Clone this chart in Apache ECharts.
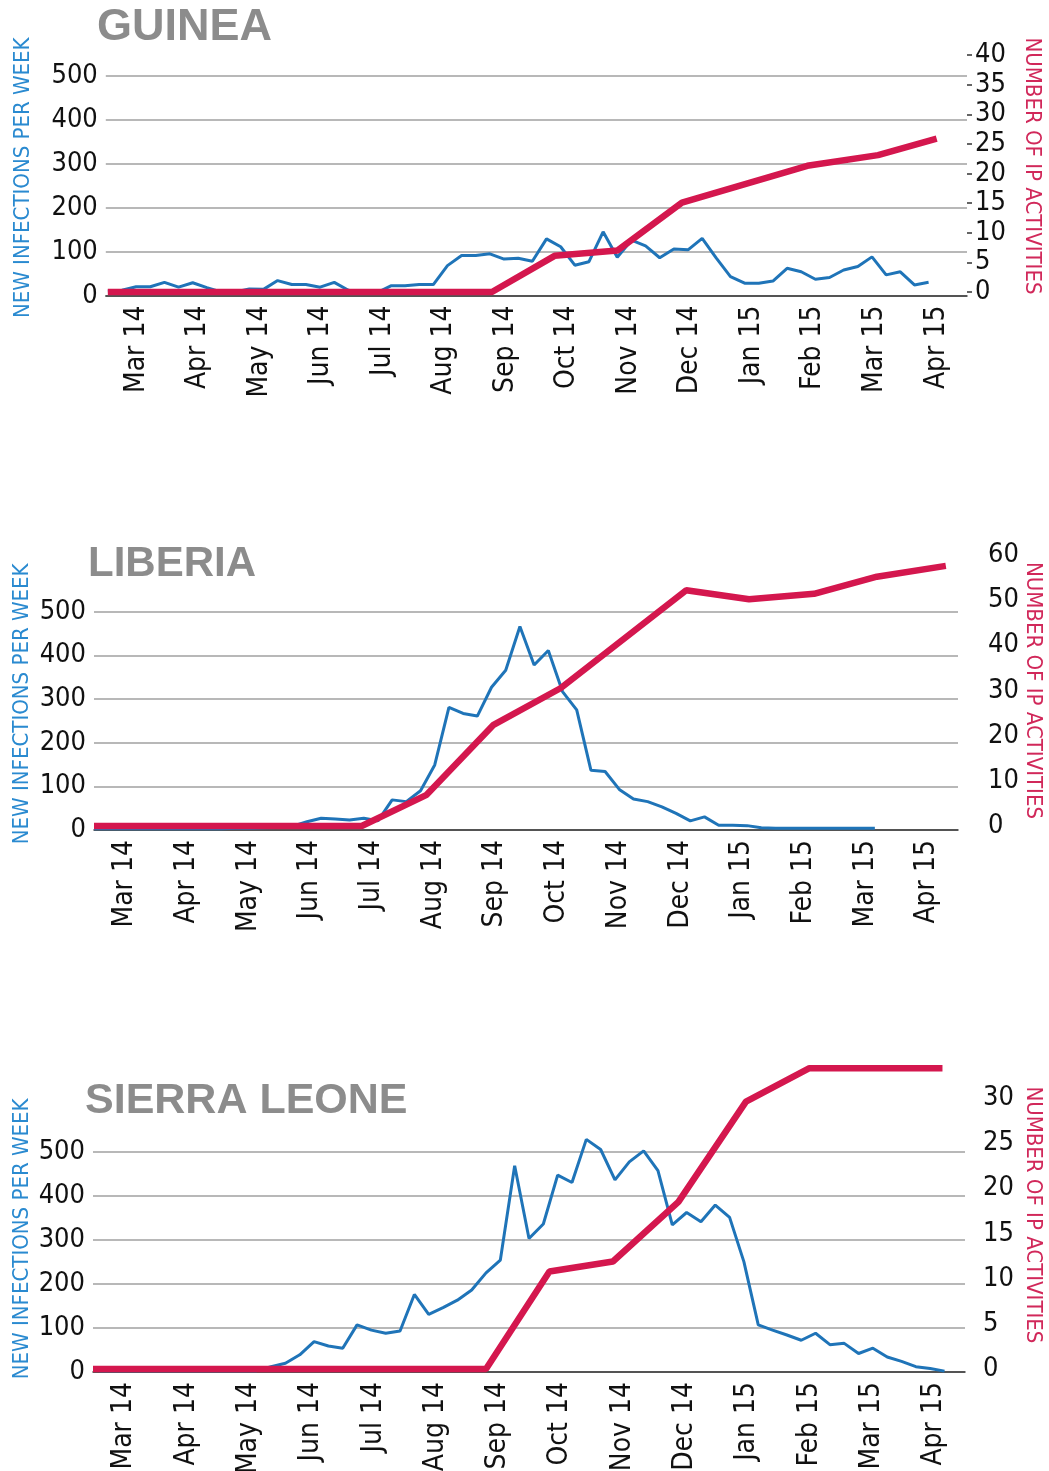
<!DOCTYPE html>
<html>
<head>
<meta charset="utf-8">
<title>New infections per week and IP activities</title>
<script src="https://cdn.jsdelivr.net/npm/echarts@6/dist/echarts.min.js"></script>
<style>
  html, body { margin: 0; background: #fff; overflow: hidden; }
  #chart { width: 1049px; height: 1471px; }
</style>
</head>
<body>
<div id="chart"></div>
<script>
// month bands along the bottom of every panel
const months = ['Mar 14', 'Apr 14', 'May 14', 'Jun 14', 'Jul 14', 'Aug 14', 'Sep 14',
  'Oct 14', 'Nov 14', 'Dec 14', 'Jan 15', 'Feb 15', 'Mar 15', 'Apr 15']

// Guinea - weekly new infections (first week below), IP activities (cumulative)
const guineaFirstWeek = '2014-03-02'
const guineaCases = [10, 12, 20, 20, 30, 19, 29, 18, 8, 8, 15, 14, 34, 25, 25, 19, 30, 12, 5, 6,
  22, 22, 25, 25, 68, 91, 91, 95, 83, 85, 78, 129, 111, 69, 77, 145, 87, 126, 113, 86,
  106, 104, 130, 85, 43, 28, 28, 33, 62, 54, 37, 41, 58, 66, 88, 47, 54, 24, 30]
const guineaIpDates = ['2014-03-02', '2014-09-08', '2014-10-09', '2014-11-09', '2014-12-11',
  '2015-02-11', '2015-03-18', '2015-04-16']
const guineaIp = [0, 0, 6.1, 7.0, 15.1, 21.3, 23.1, 25.9]

// Liberia
const liberiaFirstWeek = '2014-03-01'
const liberiaCases = [3, 3, 3, 3, 3, 3, 3, 3, 3, 3, 4, 4, 5, 6, 9, 19, 27, 25, 23, 27,
  21, 69, 65, 90, 149, 281, 267, 261, 327, 366, 466, 378, 411, 317, 275, 137, 134, 93, 71, 65,
  53, 38, 21, 30, 11, 11, 10, 5, 4, 4, 4, 4, 4, 4, 4, 4]
const liberiaIpDates = ['2014-03-01', '2014-07-11', '2014-08-12', '2014-09-14', '2014-10-17',
  '2014-12-18', '2015-01-18', '2015-02-19', '2015-03-22', '2015-04-25']
const liberiaIp = [0, 0, 6.9, 22.4, 30.5, 52.2, 50.2, 51.4, 55.2, 57.6]

// Sierra Leone
const sierraFirstWeek = '2014-03-04'
const sierraCases = [3, 3, 3, 3, 3, 3, 3, 3, 3, 3, 3, 3, 12, 20, 39, 69, 59, 54, 107, 95,
  88, 93, 176, 131, 146, 163, 186, 225, 254, 468, 303, 336, 447, 430, 528, 505, 436, 477, 502, 457,
  334, 362, 341, 379, 351, 250, 107, 95, 84, 72, 88, 62, 65, 42, 54, 34, 24, 12, 8, 2]
const sierraIpDates = ['2014-03-01', '2014-09-09', '2014-10-10', '2014-11-10', '2014-12-12',
  '2015-01-14', '2015-02-14', '2015-04-20']
const sierraIp = [0, 0, 10.8, 11.9, 18.5, 29.6, 33.3, 33.3]

const BLUE = '#1f74b8'
const RED = '#d4174e'
const NARROW = "'Liberation Sans Narrow', 'DejaVu Sans Condensed', sans-serif"

function weekly (start, values) {
  let p = start.split('-').map(Number)
  return values.map(function (v, k) {
    return [new Date(p[0], p[1] - 1, p[2] + 7 * k).getTime(), v]
  })
}

function pairs (dates, values) {
  return dates.map(function (d, i) { return [d, values[i]] })
}

// layout of each panel.
// casesGrid carries the left axis (top = the 500 line), ipGrid the right axis.
const panels = [
  { title: 'GUINEA', titleLeft: 97, titleTop: 5, titleSize: 45, left: 105.8, right: 82,
    casesGrid: { top: 76, height: 219.5 }, ipGrid: { top: 55, height: 237 },
    rightMax: 40, rightStep: 5, rightTicks: true, rightMargin: 8,
    leftGap: 72, rightGap: 54, leftPad: [0, 0, 0, 16], rightPad: [0, 15, 0, 0],
    cases: weekly(guineaFirstWeek, guineaCases), ip: pairs(guineaIpDates, guineaIp) },
  { title: 'LIBERIA', titleLeft: 88, titleTop: 543, titleSize: 42, left: 94, right: 91,
    casesGrid: { top: 611.7, height: 218.3 }, ipGrid: { top: 555, height: 271 },
    rightMax: 60, rightStep: 10, rightTicks: false, rightMargin: 30,
    leftGap: 61, rightGap: 64, leftPad: [0, 0, 0, 34], rightPad: [0, 0, 0, 0],
    cases: weekly(liberiaFirstWeek, liberiaCases), ip: pairs(liberiaIpDates, liberiaIp) },
  { title: 'SIERRA LEONE', titleLeft: 85, titleTop: 1080, titleSize: 43, left: 93, right: 84,
    casesGrid: { top: 1151.7, height: 220.3 }, ipGrid: { top: 1052.8, height: 316.2 },
    rightMax: 35, rightStep: 5, rightTicks: false, rightMargin: 18,
    leftGap: 60, rightGap: 57, leftPad: [0, 0, 0, 46], rightPad: [0, 0, 0, 8],
    cases: weekly(sierraFirstWeek, sierraCases), ip: pairs(sierraIpDates, sierraIp) }
]

let option = {
  backgroundColor: '#fff',
  animation: false,
  title: [],
  grid: [],
  xAxis: [],
  yAxis: [],
  series: []
}

panels.forEach(function (p, i) {
  let g = 2 * i
  option.title.push({
    text: p.title,
    left: p.titleLeft,
    top: p.titleTop,
    padding: 0,
    textStyle: { fontFamily: "'Liberation Sans', Arial, sans-serif", fontSize: p.titleSize, fontWeight: 'bold', color: '#8c8c8c' }
  })
  // outerBoundsMode none: keep the grids exactly where measured
  option.grid.push({ left: p.left, right: p.right, top: p.casesGrid.top, height: p.casesGrid.height, outerBoundsMode: 'none' })
  option.grid.push({ left: p.left, right: p.right, top: p.ipGrid.top, height: p.ipGrid.height, outerBoundsMode: 'none' })

  // visible month axis
  option.xAxis.push({
    type: 'category',
    gridIndex: g,
    data: months,
    boundaryGap: true,
    axisLine: { lineStyle: { color: '#333', width: 1.5 } },
    axisTick: { length: 6, lineStyle: { color: '#333', width: 1.5 } },
    axisLabel: { interval: 0, rotate: 90, margin: 10, fontSize: 28, color: '#111', fontFamily: NARROW },
    splitLine: { show: false }
  })
  // hidden time axes the points sit on
  option.xAxis.push({ type: 'time', gridIndex: g, min: '2014-03-01', max: '2015-05-01', show: false })
  option.xAxis.push({ type: 'time', gridIndex: g + 1, min: '2014-03-01', max: '2015-05-01', show: false })

  option.yAxis.push({
    type: 'value',
    gridIndex: g,
    position: 'left',
    min: 0,
    max: 500,
    interval: 100,
    name: 'NEW INFECTIONS PER WEEK',
    nameLocation: 'middle',
    nameRotate: 90,
    nameGap: p.leftGap,
    nameMoveOverlap: false,
    nameTextStyle: { color: '#2a8ad0', fontSize: 22, fontFamily: NARROW, padding: p.leftPad },
    axisLine: { show: false },
    axisTick: { show: false },
    axisLabel: { margin: 8, fontSize: 27, color: '#111', fontFamily: NARROW },
    splitLine: { show: true, lineStyle: { color: '#a0a0a0', width: 1.5 } }
  })
  option.yAxis.push({
    type: 'value',
    gridIndex: g + 1,
    position: 'right',
    min: 0,
    max: p.rightMax,
    interval: p.rightStep,
    name: 'NUMBER OF IP ACTIVITIES',
    nameLocation: 'middle',
    nameRotate: -90,
    nameGap: p.rightGap,
    nameMoveOverlap: false,
    nameTextStyle: { color: '#d1285a', fontSize: 22, fontFamily: NARROW, padding: p.rightPad },
    axisLine: { show: false },
    axisTick: { show: p.rightTicks, length: 5, lineStyle: { color: '#333', width: 1.5 } },
    axisLabel: { showMaxLabel: p.rightMax !== 35, margin: p.rightMargin, fontSize: 27, color: '#111', fontFamily: NARROW },
    splitLine: { show: false }
  })

  option.series.push({
    name: 'New infections',
    type: 'line',
    xAxisIndex: 3 * i + 1,
    yAxisIndex: g,
    data: p.cases,
    symbol: 'none',
    clip: false,
    lineStyle: { color: BLUE, width: 3 },
    z: 2
  })
  option.series.push({
    name: 'IP activities',
    type: 'line',
    xAxisIndex: 3 * i + 2,
    yAxisIndex: g + 1,
    data: p.ip,
    symbol: 'none',
    clip: false,
    lineStyle: { color: RED, width: 6.5 },
    z: 3
  })
})

let myChart = echarts.init(document.getElementById('chart'))
myChart.setOption(option)
</script>
</body>
</html>
